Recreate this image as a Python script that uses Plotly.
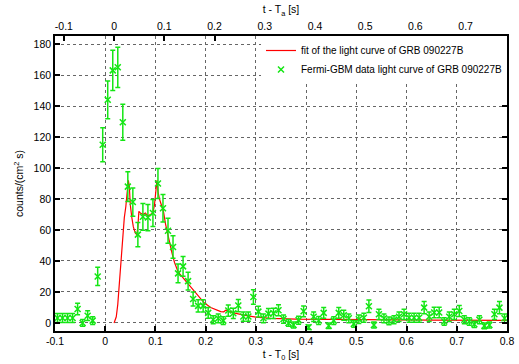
import plotly.graph_objects as go

# ---- data ----
t_bins = [round(-0.095 + 0.01 * k, 3) for k in range(90)]
counts = [3.2, 3.2, 3.2, 3.2, 9, 0, 4.7, 1.5, 30, 115,
          144, 163, 165, 129.5, 88, 78, 57, 68.5, 68, 71,
          90, 74, 59.5, 49, 32, 36.5, 27, 15.5, 11, 11,
          6.5, 2, 3, 1.5, 8, 6.2, 11.2, 4.1, 4.1, 16.8,
          7.3, 3, 6, 6.2, 8.2, 2.5, 0, -1.3, 1.8, 7.5,
          -2.8, 4, 1.6, 6.5, -1.8, 1.5, 6.5, 5, 3, -0.6,
          2.4, 3.4, 10.8, -1.3, 5.6, 3, 1.3, 2, 4, 5.6,
          3.4, 3.4, 3.4, 9.9, 4, 6.7, 6.7, 0.9, 4, 5.6,
          7.7, 2, 0.9, -0.9, 2, -1.9, -1.3, 5.6, 9.9, 3]
errors = [2.9, 2.9, 2.9, 2.9, 3.7, 2.2, 3.1, 2.5, 5.9, 11,
          12.2, 13, 13, 11.6, 9.6, 9.1, 7.9, 8.6, 8.5, 8.7,
          9.7, 8.9, 8, 7.3, 6.1, 6.4, 5.7, 4.5, 4, 4,
          3.4, 2.6, 2.8, 2.5, 3.6, 3.3, 4, 3, 3, 4.7,
          3.5, 2.8, 3.3, 3.3, 3.6, 2.7, 2.2, 1.9, 2.6, 3.5,
          1.5, 3, 2.6, 3.4, 1.8, 2.5, 3.4, 3.2, 2.8, 2.1,
          2.7, 2.9, 4, 1.9, 3.3, 2.8, 2.5, 2.6, 3, 3.3,
          2.9, 2.9, 2.9, 3.9, 3, 3.4, 3.4, 2.4, 3, 3.3,
          3.6, 2.6, 2.4, 2, 2.6, 1.8, 1.9, 3.3, 3.9, 2.8]

fit_t = [0.0176, 0.022, 0.025, 0.028, 0.031, 0.034, 0.038, 0.041, 0.044, 0.046,
         0.048, 0.050, 0.053, 0.056, 0.060, 0.063, 0.065, 0.067, 0.070, 0.075,
         0.080, 0.085, 0.090, 0.095, 0.098, 0.101, 0.103, 0.105, 0.108, 0.112,
         0.116, 0.120, 0.124, 0.128, 0.133, 0.138, 0.145, 0.158, 0.171, 0.184,
         0.197, 0.210, 0.220, 0.230, 0.236, 0.240, 0.256, 0.276, 0.300, 0.330,
         0.380, 0.450, 0.550, 0.650, 0.800]
fit_y = [0, 4, 12, 25, 40, 56, 68, 75, 85, 92,
         88, 76, 68, 62, 58, 57, 62, 72, 71, 70,
         71, 69, 70, 71, 76, 88, 92, 85, 80, 76,
         72, 64, 58, 51, 45, 39, 33, 28, 23, 17.5,
         13, 10, 8.5, 7.3, 7.2, 8.2, 6.5, 5, 3.8, 3,
         2.5, 2.2, 2, 1.8, 1.6]

x_range = [-0.1, 0.8]
Ta_offset = 0.0176   # T_a - T_0
x2_range = [x_range[0] - Ta_offset, x_range[1] - Ta_offset]
x_ticks = [-0.1, 0, 0.1, 0.2, 0.3, 0.4, 0.5, 0.6, 0.7, 0.8]
x2_ticks = [-0.1, 0, 0.1, 0.2, 0.3, 0.4, 0.5, 0.6, 0.7]
y_ticks = [0, 20, 40, 60, 80, 100, 120, 140, 160, 180]
y_range = [-5.2, 185.2]

RED = "#ff0000"
GREEN = "#14e614"
FONT = "Liberation Sans, Arial, sans-serif"

fig = go.Figure()
fig.add_trace(go.Scatter(
    x=fit_t, y=fit_y, mode="lines",
    line=dict(color=RED, width=1.2),
    name="fit of the light curve of GRB 090227B"))
fig.add_trace(go.Scatter(
    x=t_bins, y=counts, mode="markers",
    marker=dict(symbol="x-thin", size=6, line=dict(color=GREEN, width=1.5), color=GREEN),
    error_y=dict(type="data", array=errors, visible=True, color=GREEN, thickness=1.5, width=2.5),
    name="Fermi-GBM data light curve of GRB 090227B"))
# invisible trace to carry the top (T_a) axis
fig.add_trace(go.Scatter(x=x2_range, y=[None, None], xaxis="x2", mode="lines",
                         showlegend=False, hoverinfo="skip"))

axis_common = dict(showline=True, linecolor="black", linewidth=1.5,
                   ticks="inside", ticklen=5, tickcolor="black", tickwidth=1.5,
                   zeroline=False, ticklabeloverflow="allow",
                   tickfont=dict(family=FONT, size=10.5, color="black"))

fig.update_layout(
    width=519, height=364,
    margin=dict(l=55, r=5, t=36, b=33),
    paper_bgcolor="white", plot_bgcolor="white",
    font=dict(family=FONT, size=10.5, color="black"),
    showlegend=True,
    legend=dict(x=1.0, y=1.0, xanchor="right", yanchor="top",
                bgcolor="white", borderwidth=0,
                font=dict(family=FONT, size=10, color="black"),
                tracegroupgap=0, itemwidth=30),
    xaxis=dict(range=x_range, tickvals=x_ticks, ticktext=[f"{v:g}" for v in x_ticks],
               showgrid=True, gridcolor="#666", griddash="dot", gridwidth=1,
               title=dict(text="t - T<sub>0</sub> [s]", standoff=4,
                          font=dict(family=FONT, size=10.5)),
               mirror=False, **axis_common),
    xaxis2=dict(range=x2_range, tickvals=x2_ticks, ticktext=[f"{v:g}" for v in x2_ticks],
                overlaying="x", side="top", anchor="y", showgrid=False,
                title=dict(text="t - T<sub>a</sub> [s]", standoff=4,
                           font=dict(family=FONT, size=10.5)),
                **axis_common),
    yaxis=dict(range=y_range, tickvals=y_ticks,
               showgrid=True, gridcolor="#666", griddash="dot", gridwidth=1,
               title=dict(text="counts/(cm<sup>2</sup> s)", standoff=8,
                          font=dict(family=FONT, size=10.5)),
               mirror="ticks", **axis_common),
)

fig.write_html("out.html")
